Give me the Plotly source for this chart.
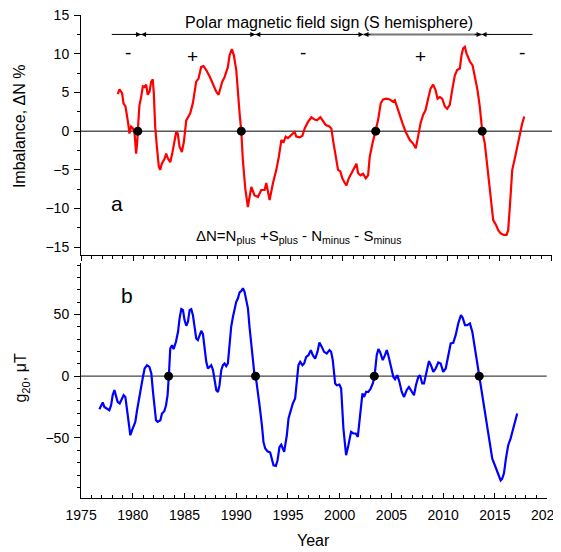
import plotly.graph_objects as go

# ---------------- data ----------------
# Panel a: hemispheric imbalance, %
imb_year = [1978.50, 1978.67, 1978.92, 1979.05, 1979.24, 1979.36, 1979.50, 1979.62, 1979.78, 1979.94,
            1980.10, 1980.26, 1980.36, 1980.48, 1980.58, 1980.74, 1980.90, 1981.06, 1981.22, 1981.37,
            1981.54, 1981.70, 1981.85, 1981.95, 1982.08, 1982.24, 1982.43, 1982.56, 1982.71, 1982.97,
            1983.13, 1983.29, 1983.52, 1983.71, 1983.86, 1984.09, 1984.24, 1984.41, 1984.63, 1984.82,
            1985.05, 1985.27, 1985.43, 1985.68, 1985.84, 1986.00, 1986.22, 1986.48, 1986.70, 1986.96,
            1987.28, 1987.59, 1987.92, 1988.14, 1988.33, 1988.49, 1988.71, 1989.03, 1989.19, 1989.41,
            1989.60, 1989.83, 1990.15, 1990.31, 1990.46, 1990.69, 1990.94, 1991.27, 1991.58, 1991.90,
            1992.22, 1992.54, 1992.70, 1993.02, 1993.34, 1993.66, 1993.90, 1994.14, 1994.36, 1994.55,
            1994.77, 1995.10, 1995.41, 1995.57, 1995.89, 1996.15, 1996.37, 1996.69, 1997.01, 1997.33,
            1997.55, 1997.87, 1998.12, 1998.38, 1998.70, 1998.92, 1999.08, 1999.33, 1999.56, 1999.78,
            1999.97, 2000.20, 2000.36, 2000.58, 2000.84, 2001.06, 2001.32, 2001.47, 2001.70, 2001.95,
            2002.21, 2002.43, 2002.59, 2002.85, 2003.16, 2003.38, 2003.64, 2003.86, 2004.19, 2004.50,
            2004.82, 2004.98, 2005.14, 2005.39, 2005.72, 2006.03, 2006.42, 2006.73, 2006.99, 2007.21,
            2007.44, 2007.69, 2007.92, 2008.17, 2008.40, 2008.65, 2008.88, 2009.07, 2009.29, 2009.51,
            2009.77, 2009.99, 2010.24, 2010.47, 2010.72, 2010.94, 2011.20, 2011.36, 2011.52, 2011.68,
            2011.84, 2012.16, 2012.42, 2012.64, 2012.89, 2013.11, 2013.34, 2013.59, 2013.81, 2014.07,
            2014.39, 2014.65, 2014.87, 2015.10, 2015.41, 2015.67, 2015.82, 2015.98, 2016.21, 2016.46,
            2016.69, 2016.94, 2017.16, 2017.36]
imb_value = [4.8, 5.4, 4.9, 3.6, 3.2, 2.3, 1.0, -0.3, 0.6, 0.4,
             -0.1, -2.9, -1.5, 1.4, 3.4, 4.4, 5.8, 5.7, 6.0, 4.7,
             5.1, 6.4, 6.7, 4.9, 0.6, -2.0, -4.6, -5.0, -4.2, -3.6,
             -2.9, -3.5, -4.0, -2.9, -1.6, -0.1, -0.3, -2.0, -2.7, -1.4,
             1.4, 1.9, 2.3, 3.6, 4.9, 6.4, 6.8, 8.3, 8.4, 7.9,
             7.1, 6.2, 5.1, 4.7, 5.5, 6.4, 6.95, 8.3, 9.8, 10.6,
             9.8, 7.9, 2.3, 0.0, -3.7, -7.4, -9.8, -7.2, -8.3, -8.5,
             -7.6, -7.6, -6.7, -8.9, -6.7, -5.0, -3.3, -1.15, -1.4, -0.7,
             -0.9, -0.5, -0.1, -0.7, -0.8, -0.6, 0.35, 1.2, 1.8, 1.5,
             1.4, 1.8, 1.35, 0.8, 0.65, 0.35, -1.15, -3.3, -5.0, -5.2,
             -6.1, -6.7, -7.0, -6.1, -5.45, -4.8, -4.2, -5.4, -5.7, -5.5,
             -6.1, -5.7, -3.3, -1.6, 0.0, 1.4, 3.6, 4.1, 4.2, 4.1,
             3.8, 4.0, 3.4, 2.3, 1.0, -0.1, -1.15, -1.6, -2.2, -0.7,
             1.0, 2.1, 2.7, 4.2, 5.5, 6.0, 5.3, 4.2, 4.4, 4.2,
             3.2, 2.9, 3.4, 5.3, 7.2, 7.9, 8.1, 9.8, 10.7, 10.9,
             10.05, 9.0, 8.5, 7.0, 5.3, 3.15, 0.0, -1.6, -4.2, -7.6,
             -11.5, -12.1, -12.8, -13.2, -13.4, -13.4, -12.8, -9.8, -5.0, -3.5,
             -2.0, -0.3, 1.0, 1.9]

# Panel b: g20 coefficient, microtesla
g20_year = [1976.77, 1976.93, 1977.09, 1977.25, 1977.51, 1977.73, 1977.90, 1978.05, 1978.22, 1978.38,
            1978.53, 1978.73, 1978.96, 1979.11, 1979.28, 1979.44, 1979.60, 1979.76, 1979.92, 1980.08,
            1980.24, 1980.41, 1980.56, 1980.73, 1980.95, 1981.14, 1981.37, 1981.60, 1981.79, 1981.95,
            1982.11, 1982.24, 1982.40, 1982.66, 1982.82, 1983.04, 1983.21, 1983.36, 1983.48, 1983.62,
            1983.79, 1983.94, 1984.17, 1984.37, 1984.52, 1984.69, 1984.85, 1985.00, 1985.17, 1985.33,
            1985.49, 1985.65, 1985.81, 1985.97, 1986.13, 1986.29, 1986.45, 1986.62, 1986.78, 1986.94,
            1987.10, 1987.26, 1987.42, 1987.58, 1987.75, 1987.90, 1988.07, 1988.23, 1988.38, 1988.55,
            1988.71, 1988.87, 1989.03, 1989.19, 1989.35, 1989.51, 1989.68, 1989.83, 1990.00, 1990.16,
            1990.32, 1990.48, 1990.64, 1990.80, 1990.96, 1991.13, 1991.28, 1991.51, 1991.73, 1991.88,
            1992.05, 1992.25, 1992.48, 1992.63, 1992.80, 1993.02, 1993.28, 1993.44, 1993.60, 1993.83,
            1993.99, 1994.18, 1994.35, 1994.63, 1994.89, 1995.05, 1995.28, 1995.47, 1995.69, 1995.86,
            1996.01, 1996.18, 1996.40, 1996.56, 1996.76, 1996.98, 1997.21, 1997.40, 1997.63, 1997.85,
            1998.04, 1998.27, 1998.49, 1998.75, 1999.01, 1999.17, 1999.33, 1999.56, 1999.72, 1999.97,
            2000.14, 2000.36, 2000.62, 2000.84, 2001.10, 2001.32, 2001.55, 2001.75, 2001.97, 2002.20,
            2002.36, 2002.55, 2002.77, 2003.00, 2003.20, 2003.37, 2003.58, 2003.74, 2003.90, 2004.16,
            2004.38, 2004.55, 2004.70, 2004.96, 2005.19, 2005.35, 2005.57, 2005.77, 2006.00, 2006.22,
            2006.48, 2006.70, 2006.96, 2007.18, 2007.37, 2007.60, 2007.76, 2007.98, 2008.15, 2008.41,
            2008.63, 2008.82, 2009.05, 2009.28, 2009.53, 2009.76, 2010.01, 2010.25, 2010.50, 2010.73,
            2010.98, 2011.21, 2011.46, 2011.72, 2011.89, 2012.11, 2012.33, 2012.59, 2012.82, 2013.07,
            2013.30, 2013.48, 2013.72, 2013.97, 2014.20, 2014.46, 2014.75, 2015.00, 2015.27, 2015.56,
            2015.71, 2015.88, 2016.07, 2016.29, 2016.52, 2016.71, 2016.94, 2017.16]
g20_value = [-26.7, -23.5, -21.3, -24.9, -26.2, -27.6, -23.5, -15.4, -11.3, -16.8,
             -20.8, -22.1, -18.1, -15.4, -16.8, -26.2, -39.7, -47.8, -43.8, -39.7,
             -37.0, -27.6, -19.4, -12.7, -1.9, 6.2, 8.9, 7.5, 2.2, -12.7,
             -28.9, -35.7, -37.0, -35.7, -30.2, -28.4, -23.5, -15.4, 0.0, 22.4,
             25.1, 21.9, 27.8, 35.9, 46.8, 54.3, 53.5, 45.4, 40.8, 44.0,
             53.5, 54.3, 49.4, 38.6, 30.5, 29.2, 33.2, 36.7, 34.0, 23.7,
             11.6, 6.2, 7.5, 8.9, 4.9, -4.6, -11.3, -12.7, -7.3, 4.9,
             8.9, 10.3, 8.1, 10.3, 25.1, 40.0, 48.1, 53.5, 60.2, 63.0,
             67.8, 68.9, 71.1, 68.3, 63.0, 54.9, 40.0, 19.7, 3.5, 0.0,
             -10.0, -23.5, -39.7, -53.2, -58.6, -60.8, -61.8, -66.7, -72.1, -72.6,
             -68.0, -57.3, -55.5, -61.3, -47.8, -34.3, -26.2, -22.1, -18.1, -4.6,
             8.9, 11.6, 8.9, 10.3, 15.6, 17.0, 21.1, 17.0, 14.3, 19.7,
             27.3, 23.7, 19.7, 18.4, 21.1, 19.7, 13.0, -5.9, -7.3, -6.8,
             -10.0, -42.4, -64.0, -55.9, -45.1, -46.4, -46.4, -49.2, -31.6, -14.0,
             -16.8, -12.7, -12.7, -10.0, -5.9, 0.0, 17.0, 21.9, 19.7, 13.0,
             17.0, 21.1, 17.0, 7.5, -0.6, -2.4, 0.8, -4.6, -12.7, -16.8,
             -11.3, -8.7, -12.7, -15.4, -7.3, -0.6, 0.8, -5.9, -5.9, 4.9,
             12.2, 8.9, 3.5, 6.2, 11.1, 10.3, 3.5, 6.2, 18.4, 26.5,
             27.0, 33.2, 42.7, 49.4, 47.3, 41.3, 41.3, 42.7, 35.9, 22.4,
             10.3, 0.0, -10.0, -23.5, -37.0, -53.2, -66.7, -72.1, -77.6, -84.3,
             -82.9, -78.6, -66.7, -55.9, -50.5, -45.1, -37.0, -30.2]

# zero crossings (black dots)
imb_cross = [1980.42, 1990.31, 2003.16, 2013.34]
g20_cross = [1983.46, 1991.86, 2003.35, 2013.49]

# polarity reversal epochs for the arrow bar, and its ends
rev_years = [1980.73, 1991.65, 2001.99, 2013.28]
bar_ends = [1977.93, 2018.15]
sign_labels = ["-", "+", "-", "+", "-"]
sign_years = [1979.5, 1985.65, 1996.2, 2007.4, 2017.1]

# axis tick labels
imb_ticks = [-15, -10, -5, 0, 5, 10, 15]
g20_ticks = [-50, 0, 50]
year_ticks = [1975, 1980, 1985, 1990, 1995, 2000, 2005, 2010, 2015, 2020]

FONT = "Liberation Sans, Arial, sans-serif"

fig = go.Figure()

fig.add_trace(go.Scatter(x=imb_year, y=imb_value, mode="lines",
                         line=dict(color="#ff0000", width=2.2), xaxis="x", yaxis="y",
                         showlegend=False, hoverinfo="skip"))
fig.add_trace(go.Scatter(x=imb_cross, y=[0] * len(imb_cross), mode="markers",
                         marker=dict(color="black", size=9), xaxis="x", yaxis="y",
                         showlegend=False, hoverinfo="skip"))
fig.add_trace(go.Scatter(x=g20_year, y=g20_value, mode="lines",
                         line=dict(color="#0000ff", width=2.2), xaxis="x2", yaxis="y2",
                         showlegend=False, hoverinfo="skip"))
fig.add_trace(go.Scatter(x=g20_cross, y=[0] * len(g20_cross), mode="markers",
                         marker=dict(color="black", size=9), xaxis="x2", yaxis="y2",
                         showlegend=False, hoverinfo="skip"))

shapes = [
    dict(type="line", xref="x domain", yref="y", x0=0, x1=1, y0=0, y1=0,
         line=dict(color="black", width=1), layer="below"),
    dict(type="line", xref="x2 domain", yref="y2", x0=0, x1=1, y0=0, y1=0,
         line=dict(color="#444444", width=1.2), layer="below"),
]
# arrow bar segments
bar_pts = [bar_ends[0]] + rev_years + [bar_ends[1]]
BAR_Y = 12.5
for i in range(len(bar_pts) - 1):
    col = "#777777" if i == 3 else "black"
    w = 2 if i == 3 else 1
    shapes.append(dict(type="line", xref="x", yref="y", x0=bar_pts[i], x1=bar_pts[i + 1],
                       y0=BAR_Y, y1=BAR_Y, line=dict(color=col, width=w)))

annotations = []
for r in rev_years:
    for d in (-0.8, 0.8):
        annotations.append(dict(x=r, y=BAR_Y, ax=r + d, ay=BAR_Y, xref="x", yref="y",
                                axref="x", ayref="y", text="", showarrow=True,
                                arrowhead=2, arrowsize=1.0, arrowwidth=1, arrowcolor="black",
                                standoff=0))
for s, yr in zip(sign_labels, sign_years):
    annotations.append(dict(x=yr, y=10.2 if s == "-" else 9.7, xref="x", yref="y", text=s,
                            showarrow=False, font=dict(family=FONT, size=19, color="black"),
                            xanchor="center", yanchor="middle"))

annotations += [
    dict(x=1998.74, y=14.1, xref="x", yref="y", text="Polar magnetic field sign (S hemisphere)",
         showarrow=False, font=dict(family=FONT, size=16, color="black"),
         xanchor="center", yanchor="middle"),
    dict(x=1978.41, y=-9.31, xref="x", yref="y", text="a", showarrow=False,
         font=dict(family=FONT, size=21, color="black"), xanchor="center", yanchor="middle"),
    dict(x=1995.79, y=-13.6, xref="x", yref="y",
         text="\u0394N=N<sub>plus</sub> +S<sub>plus</sub> - N<sub>minus</sub> - S<sub>minus</sub>",
         showarrow=False, font=dict(family=FONT, size=15, color="black"),
         xanchor="center", yanchor="middle"),
    dict(x=1979.47, y=65.1, xref="x2", yref="y2", text="b", showarrow=False,
         font=dict(family=FONT, size=21, color="black"), xanchor="center", yanchor="middle"),
    dict(x=-0.1316, y=0.770, xref="paper", yref="paper", text="Imbalance, \u0394N %",
         textangle=-90, showarrow=False, font=dict(family=FONT, size=16, color="black"),
         xanchor="center", yanchor="middle"),
    dict(x=-0.1263, y=0.2484, xref="paper", yref="paper", text="g<sub>20</sub>, \u03bcT",
         textangle=-90, showarrow=False, font=dict(family=FONT, size=16, color="black"),
         xanchor="center", yanchor="middle"),
    dict(x=0.4926, y=-0.087, xref="paper", yref="paper", text="Year",
         showarrow=False, font=dict(family=FONT, size=16, color="black"),
         xanchor="center", yanchor="middle"),
]

tickfont = dict(family=FONT, size=14, color="black")

# the page body adds an 8 px offset, so the figure is 8 px smaller and shifted
fig.update_layout(
    width=553, height=544,
    margin=dict(l=73, r=9, t=7, b=54, pad=0, autoexpand=False),
    paper_bgcolor="white", plot_bgcolor="white",
    showlegend=False,
    shapes=shapes, annotations=annotations,
    xaxis=dict(domain=[0, 1], anchor="y", range=[1974.99, 2020.01], automargin=False,
               showgrid=False, zeroline=False, showline=True, linecolor="black", linewidth=1,
               ticks="outside", ticklen=5, tickcolor="black", tickwidth=1,
               tickvals=year_ticks, showticklabels=False,
               minor=dict(dtick=1, tick0=1975, ticklen=3, ticks="outside", tickcolor="black",
                          showgrid=False)),
    yaxis=dict(domain=[0.5031, 1.0], anchor="x", range=[-16, 15.01], automargin=False,
               showgrid=False, zeroline=False, showline=True, linecolor="black", linewidth=1,
               ticks="outside", ticklen=6, tickcolor="black",
               tickvals=imb_ticks, ticklabeloverflow="allow",
               tickfont=tickfont, ticklabelstandoff=2,
               minor=dict(dtick=2.5, tick0=0, ticklen=3, ticks="outside", tickcolor="black",
                          showgrid=False)),
    xaxis2=dict(domain=[0, 0.9887], anchor="y2", range=[1974.99, 2020.01], automargin=False,
                showgrid=False, zeroline=False, showline=True, linecolor="black", linewidth=1,
                ticks="inside", ticklen=5, tickcolor="black", tickvals=year_ticks,
                ticklabeloverflow="allow",
                tickfont=tickfont, ticklabelstandoff=4,
                minor=dict(dtick=1, tick0=1975, ticklen=3, ticks="inside", tickcolor="black",
                           showgrid=False)),
    yaxis2=dict(domain=[0, 0.4865], anchor="x2", range=[-98.6, 91.6], automargin=False,
                showgrid=False, zeroline=False, showline=True, linecolor="black", linewidth=1,
                ticks="outside", ticklen=6, tickcolor="black", tickvals=g20_ticks,
                tickfont=tickfont, ticklabelstandoff=2,
                minor=dict(dtick=10, tick0=0, ticklen=3, ticks="outside", tickcolor="black",
                           showgrid=False)),
)

fig.write_html("out.html")
